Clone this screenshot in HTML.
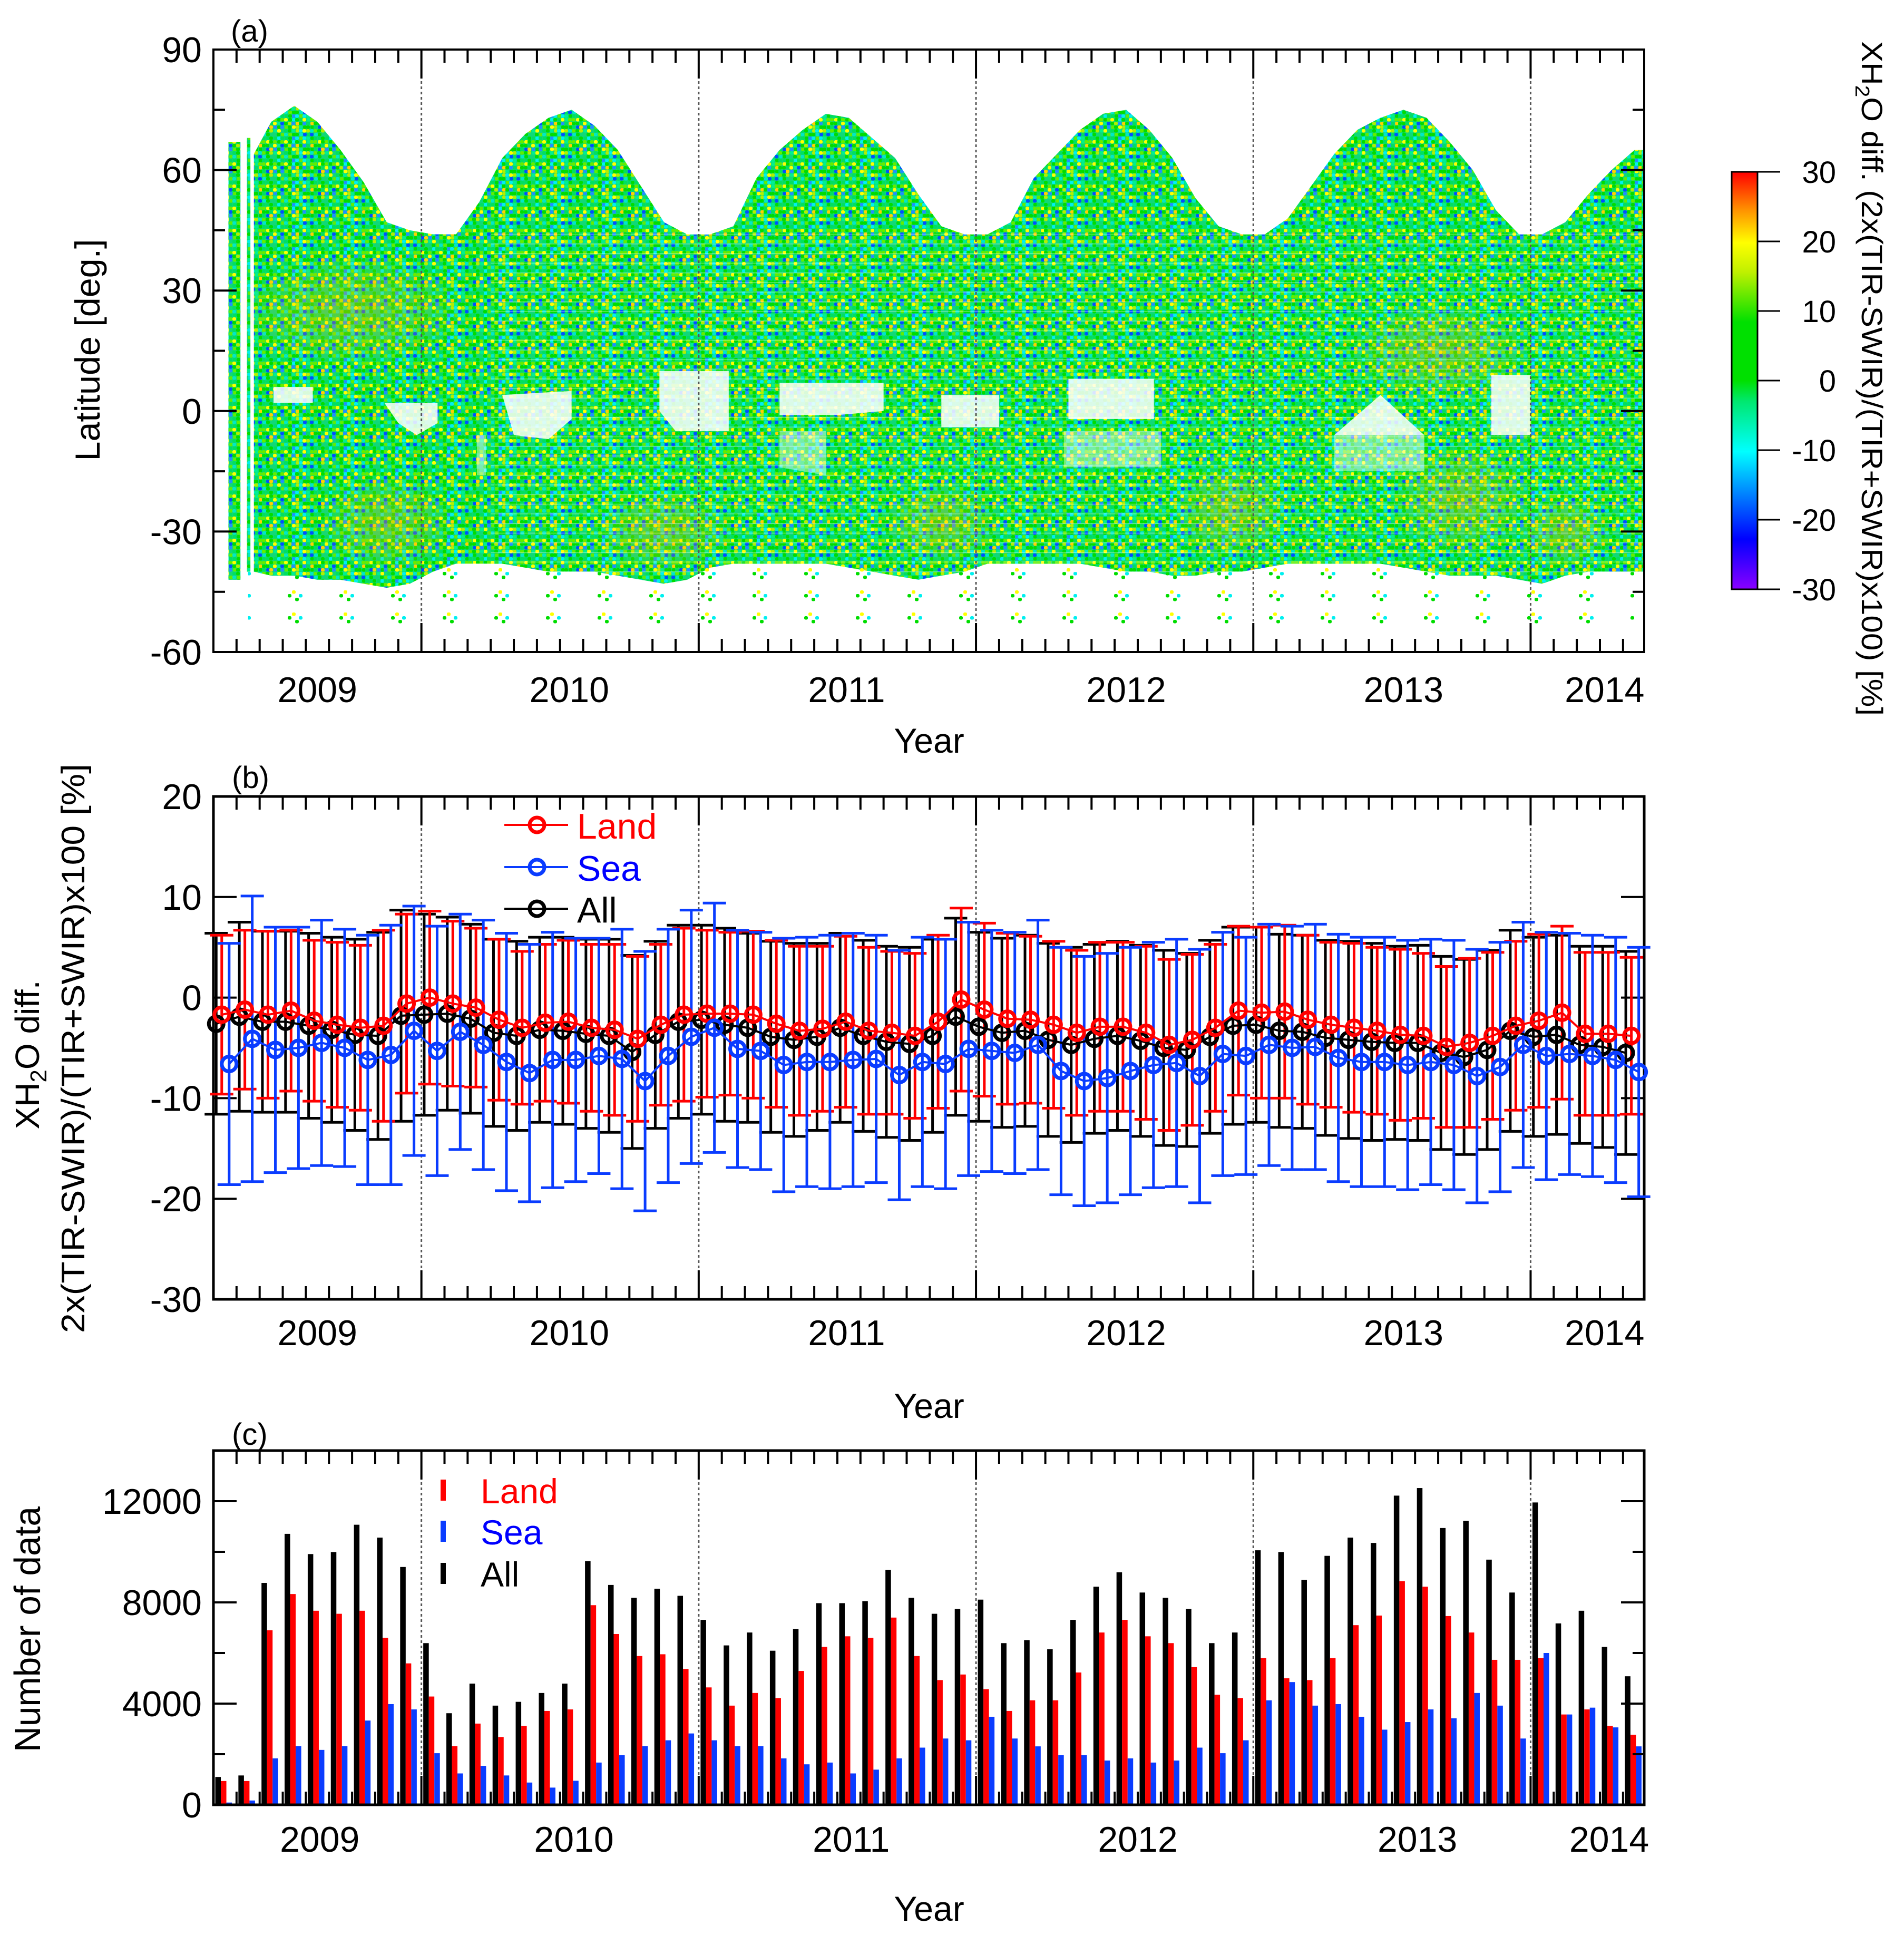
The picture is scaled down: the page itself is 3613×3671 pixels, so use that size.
<!DOCTYPE html>
<html><head><meta charset="utf-8"><title>XH2O diff</title>
<style>
html,body{margin:0;padding:0;background:#fff;}
svg{display:block;font-family:"Liberation Sans",Arial,sans-serif;}
</style></head>
<body>
<svg id="fig" width="3613" height="3671" viewBox="0 0 3613 3671" xmlns="http://www.w3.org/2000/svg">
<defs>
<linearGradient id="cbGrad" x1="0" y1="1" x2="0" y2="0">
<stop offset="0" stop-color="#8a00ff"/><stop offset="0.12" stop-color="#0000ff"/>
<stop offset="0.20" stop-color="#0060ff"/><stop offset="0.33" stop-color="#00ffff"/>
<stop offset="0.45" stop-color="#00e870"/><stop offset="0.50" stop-color="#00e000"/>
<stop offset="0.64" stop-color="#00e000"/><stop offset="0.76" stop-color="#c0f000"/>
<stop offset="0.83" stop-color="#ffff00"/><stop offset="0.91" stop-color="#ff9000"/>
<stop offset="1" stop-color="#ff0000"/>
</linearGradient>
<radialGradient id="warmGrad">
<stop offset="0" stop-color="#ffb000" stop-opacity="0.35"/>
<stop offset="0.6" stop-color="#ffc000" stop-opacity="0.18"/>
<stop offset="1" stop-color="#ffc000" stop-opacity="0"/>
</radialGradient>
<clipPath id="clipA"><rect x="405" y="94" width="2715" height="1143"/></clipPath>
</defs>
<g id="panelA"></g>
<g id="panelB"></g>
<g id="panelC"></g>
<g id="cbar"></g>
</svg>
<script>
// ---------- DATA ----------
const monthCount = 62;
const yearLabels = ["2009","2010","2011","2012","2013","2014"];
const yearLabelMonth = [4.5, 15.4, 27.4, 39.5, 51.5, 60.2];
const yearLabelMonthC = [4.6, 15.6, 27.6, 40.0, 52.1, 60.4];
const boundaryMonths = [9, 21, 33, 45, 57];

// panel (a) data-coverage envelope (latitude per month, centre i+0.5)
const northEdge = [62,64,72,76,72,65,57,47,45,44,44,52,63,69,73,75,71,65,56,47,44,44,46,58,65,70,74,73,68,63,54,46,44,44,47,58,64,70,74,75,70,63,53,46,44,44,48,56,64,70,73,75,73,67,60,50,44,44,47,54,60,65];
const southEdge = [-40,-40,-41,-41,-42,-42,-43,-44,-43,-40,-38,-38,-38,-39,-40,-40,-40,-41,-42,-43,-42,-39,-38,-38,-38,-38,-38,-39,-40,-41,-42,-41,-40,-38,-38,-38,-38,-38,-39,-40,-40,-41,-41,-40,-40,-39,-38,-38,-38,-38,-38,-39,-40,-41,-41,-41,-42,-43,-41,-40,-40,-40];
const stripMonths = [[0.65,1.17],[1.45,1.6]];
const stripLats = [[67,-42],[68,-40]];
const holes = [
 [[2.6,6],[4.3,6],[4.3,2],[2.6,2]],
 [[7.4,2],[9.7,2],[9.7,-3],[8.8,-6],[8.0,-3]],
 [[12.5,4],[15.5,5],[15.5,-2],[14.5,-7],[13,-6]],
 [[19.3,10],[22.3,10],[22.3,-5],[20,-5],[19.3,0]],
 [[24.5,7],[29,7],[29,0],[27,-1],[24.5,-1]],
 [[31.5,4],[34,4],[34,-4],[31.5,-4]],
 [[37,8],[40.7,8],[40.7,-2],[37,-2]],
 [[48.5,-6],[50.5,4],[52.4,-6]],
 [[55.3,9],[57,9],[57,-6],[55.3,-6]]
];
const softHoles = [
 [[24.5,-5],[26.5,-5],[26.5,-16],[24.5,-14]],
 [[36.8,-5],[41,-5],[41,-14],[36.8,-14]],
 [[48.5,-6],[52.4,-6],[52.4,-15],[48.5,-15]],
 [[11.4,-6],[11.8,-6],[11.8,-16],[11.4,-16]]
];
const warmPatches = [[6,25,5,14],[7.5,-28,3,12],[19.5,-30,3,10],[31.5,-28,2.5,10],[44,-25,2.5,12],[54,-22,3,14],[58.5,-30,2,9],[53,15,4,12]];

// panel (b)
const landMean = [-1.7,-1.2,-1.7,-1.3,-2.3,-2.7,-3.0,-2.8,-0.6,0,-0.6,-1.0,-2.2,-3.0,-2.5,-2.4,-3.0,-3.2,-4.1,-2.7,-1.7,-1.6,-1.6,-1.7,-2.6,-3.3,-3.1,-2.4,-3.3,-3.5,-3.8,-2.4,-0.2,-1.2,-2.1,-2.2,-2.7,-3.5,-2.9,-2.9,-3.5,-4.7,-4.2,-3.0,-1.3,-1.5,-1.4,-2.2,-2.7,-3.0,-3.3,-3.7,-3.8,-4.9,-4.5,-3.8,-2.8,-2.3,-1.5,-3.6,-3.6,-3.8];
const seaMean = [-6.6,-4.1,-5.2,-5.0,-4.5,-5.0,-6.2,-5.7,-3.3,-5.3,-3.4,-4.7,-6.4,-7.5,-6.2,-6.2,-5.8,-6.1,-8.3,-5.8,-3.9,-3.0,-5.1,-5.3,-6.7,-6.4,-6.4,-6.2,-6.1,-7.7,-6.4,-6.6,-5.1,-5.3,-5.5,-4.7,-7.3,-8.3,-8.0,-7.3,-6.7,-6.5,-7.8,-5.6,-5.8,-4.7,-5.0,-4.9,-6.0,-6.4,-6.4,-6.7,-6.4,-6.7,-7.8,-6.9,-4.7,-5.8,-5.6,-5.8,-6.2,-7.4];
const allMean = [-2.6,-1.9,-2.4,-2.4,-2.8,-3.2,-3.7,-3.8,-1.8,-1.7,-1.6,-2.1,-3.5,-3.8,-3.2,-3.3,-3.6,-3.8,-5.4,-3.7,-2.4,-2.2,-2.7,-3.0,-3.9,-4.2,-3.9,-3.0,-3.8,-4.4,-4.6,-3.8,-1.9,-2.9,-3.5,-3.3,-4.2,-4.7,-4.1,-3.8,-4.3,-5.0,-5.2,-3.9,-2.8,-2.7,-3.3,-3.4,-4.0,-4.2,-4.4,-4.5,-4.5,-5.5,-5.9,-5.2,-3.3,-3.9,-3.7,-4.7,-4.9,-5.5];
const landStd = [7.9,7.9,8.3,8.0,8.0,8.2,8.2,9.5,8.9,8.6,8.2,7.9,8.0,7.6,7.8,8.1,8.3,8.5,8.2,8.0,8.6,8.3,8.1,8.3,8.3,8.4,8.2,8.5,8.3,8.1,8.2,8.6,9.1,8.6,8.5,8.3,8.3,8.2,8.4,8.4,8.6,8.5,8.5,8.3,8.4,8.5,8.6,8.4,8.2,8.4,8.3,8.5,8.2,8.0,8.4,8.3,8.4,8.6,8.6,8.1,8.1,7.8];
const seaStd = [12.0,14.2,12.2,12.0,12.2,11.8,12.4,12.9,12.4,12.4,11.7,12.4,12.8,12.8,12.7,12.1,11.7,12.9,12.9,12.6,12.6,12.4,11.8,11.8,12.6,12.4,12.6,12.6,12.3,12.4,12.4,12.4,12.6,12.0,12.0,12.4,12.3,12.4,12.4,12.3,12.2,12.3,12.6,12.1,11.8,12.0,12.1,12.2,12.3,12.4,12.4,12.4,12.2,12.4,12.6,12.4,12.2,12.3,12.0,12.0,12.2,12.4];
const allStd = [9.0,9.4,9.0,9.0,9.2,9.2,9.5,10.3,10.5,10.0,9.6,9.4,9.3,9.4,9.2,9.3,9.4,9.6,9.6,9.3,9.6,9.4,9.6,9.4,9.5,9.6,9.3,9.4,9.5,9.5,9.6,9.6,9.8,9.4,9.4,9.5,9.6,9.7,9.4,9.4,9.5,9.7,9.6,9.6,9.8,9.7,9.6,9.6,9.7,9.8,9.8,9.6,9.7,9.6,9.7,9.9,10.0,9.9,9.9,9.8,10.0,10.1];
const bTicks = [20,10,0,-10,-20,-30];

// panel (c)
const allCount = [1100,1160,8770,10710,9910,9990,11070,10560,9400,6390,3620,4790,3920,4070,4420,4790,9630,8690,8180,8540,8260,7310,6300,6810,6090,6950,7970,7970,8050,9280,8180,7550,7740,8110,6390,6510,6150,7310,8620,9190,8390,8180,7740,6390,6810,10060,9990,8890,9840,10560,10350,12220,12520,10940,11220,9690,8390,11950,7170,7670,6240,5080];
const landCount = [940,940,6900,8330,7670,7550,7670,6600,5590,4280,2320,3210,2680,3120,3710,3770,7890,6750,5880,5950,5370,4640,3920,4420,4220,5290,6240,6660,6600,7400,5880,4930,5150,4570,3710,4130,4130,5230,6810,7310,6660,6390,5440,4350,4220,5800,5000,4930,5800,7100,7480,8840,8620,7460,6810,5730,5730,5800,3570,3770,3120,2770];
const seaCount = [90,170,1835,2320,2170,2320,3330,3980,3770,2040,1240,1540,1160,880,680,950,1670,1960,2320,2550,2820,2550,2320,2320,1835,1600,1670,1240,1390,1835,2260,2620,2550,3480,2620,2310,1960,1960,1750,1835,1670,1750,2260,2040,2550,4130,4850,3920,3980,3480,2970,3270,3770,3420,4420,3920,2620,6000,3570,3840,3060,2310];
const cTicks = [0,4000,8000,12000];
const cbTicks = [30,20,10,0,-10,-20,-30];
const aTicks = [90,60,30,0,-30,-60];

// ---------- SCALES ----------
const X0 = 405, X1 = 3120, MW = 43.85;
const xM = m => X0 + m * MW;
const yA = lat => 94 + (90 - lat) * (1143 / 150);
const yB = v => 1511 + (20 - v) * (954 / 50);
const yC = v => 3424 - v * (672 / 14000);
const NS = "http://www.w3.org/2000/svg";
function mk(tag, attrs, parent) {
  const e = document.createElementNS(NS, tag);
  for (const k in attrs) e.setAttribute(k, attrs[k]);
  parent.appendChild(e);
  return e;
}
function txt(str, attrs, parent) { const t = mk("text", attrs, parent); t.textContent = str; return t; }
function hash(n) { n = Math.imul(n ^ 0x9e3779b9, 2654435761) >>> 0; n ^= n >>> 15; n = Math.imul(n, 2246822519) >>> 0; n ^= n >>> 13; return (n >>> 0) / 4294967296; }

const svg = document.getElementById("fig");
const defs = svg.querySelector("defs");

// speckle patterns (texture only)
function makePattern(id, density, bg) {
  const pat = mk("pattern", {id: id, x: 0, y: 0, width: 98, height: 42, patternUnits: "userSpaceOnUse"}, defs);
  if (bg) mk("rect", {x: 0, y: 0, width: 98, height: 42, fill: bg}, pat);
  const cols = ["#00dd00","#00dd00","#00dd00","#00e060","#00f090","#00e8c8","#00f0f0","#60ee00","#b0f000","#ffff00","#ffd000","#0050ff","#2090ff","#ff8000","#ff2000","#7000ff"];
  const w = [20,8,7,10,9,9,8,6,5,6,3,4,3,3,1.5,0.5];
  const tot = w.reduce((a,b)=>a+b,0);
  let k = 0;
  for (let r = 0; r < 6; r++) for (let c = 0; c < 14; c++) {
    k++;
    if (hash(k * 7 + 3) > density) continue;
    let u = hash(k * 13 + 11) * tot, ci = 0;
    while (u > w[ci]) { u -= w[ci]; ci++; }
    mk("rect", {x: c * 7 + (hash(k) * 2 | 0), y: r * 7, width: 7, height: 6.5, rx: 2.5, fill: cols[ci]}, pat);
  }
}
makePattern("speckle", 0.97, "#10d878");
makePattern("sparse", 0.06, null);

// ---------- PANEL A ----------
const gA = document.getElementById("panelA");
const gAd = mk("g", {"clip-path": "url(#clipA)"}, gA);


{
  let pts = [];
  for (let i = 1; i < monthCount; i++) pts.push(xM(i + 0.5) + "," + yA(southEdge[i] + 1));
  for (let i = monthCount - 1; i >= 1; i--) pts.push(xM(i + 0.5) + "," + yA(-55));
  const p = mk("polygon", {points: pts.join(" "), fill: "url(#sparse)"}, gAd);
  
  
}
{
  let pts = [xM(1.75) + "," + yA(northEdge[1])];
  for (let i = 2; i < monthCount; i++) pts.push(xM(i + 0.5) + "," + yA(northEdge[i]));
  pts.push(xM(61.95) + "," + yA(northEdge[61]));
  pts.push(xM(61.95) + "," + yA(southEdge[61]));
  for (let i = monthCount - 1; i >= 2; i--) pts.push(xM(i + 0.5) + "," + yA(southEdge[i]));
  pts.push(xM(1.75) + "," + yA(southEdge[1]));
  const p = mk("polygon", {points: pts.join(" "), fill: "url(#speckle)"}, gAd);
  
  
}
stripMonths.forEach((sm, j) => {
  const r = mk("rect", {x: xM(sm[0]), y: yA(stripLats[j][0]), width: xM(sm[1]) - xM(sm[0]), height: yA(stripLats[j][1]) - yA(stripLats[j][0]), fill: "url(#speckle)"}, gAd);
  
  
});
warmPatches.forEach(wp => {
  const e = mk("ellipse", {cx: xM(wp[0]), cy: yA(wp[1]), rx: wp[2] * MW, ry: wp[3] * 1143 / 150, fill: "url(#warmGrad)"}, gAd);
  
  
});
for (let lat = 44; lat > -40; lat -= 2.4) {
  mk("line", {x1: xM(12), x2: X1, y1: yA(lat), y2: yA(lat), stroke: "#fff", "stroke-width": 2, opacity: 0.3}, gAd);
}
holes.forEach(h => {
  const p = mk("polygon", {points: h.map(q => xM(q[0]) + "," + yA(q[1])).join(" "), fill: "#fff", opacity: 0.85}, gAd);
  
  
});
softHoles.forEach(h => {
  const p = mk("polygon", {points: h.map(q => xM(q[0]) + "," + yA(q[1])).join(" "), fill: "#fff", opacity: 0.45}, gAd);
  
  
});

// ---------- generic axes ----------
function frame(g, top, bot, name, sw) {
  boundaryMonths.forEach(m => {
    const l = mk("line", {x1: xM(m), x2: xM(m), y1: top + 50, y2: bot - 50, stroke: "#555", "stroke-width": 3, "stroke-dasharray": "5 5"}, g);
    
    
  });
  for (let m = 1; m < 62; m++) {
    const major = boundaryMonths.includes(m);
    const L = major ? 55 : 25;
    mk("line", {x1: xM(m), x2: xM(m), y1: top, y2: top + L, stroke: "#000", "stroke-width": 4}, g);
    mk("line", {x1: xM(m), x2: xM(m), y1: bot, y2: bot - L, stroke: "#000", "stroke-width": 4}, g);
  }
  const r = mk("rect", {x: X0, y: top, width: X1 - X0, height: bot - top, fill: "none", stroke: "#000", "stroke-width": sw}, g);
  
  
}
function yTick(g, y, label, major) {
  const L = major ? 44 : 22;
  mk("line", {x1: X0, x2: X0 + L, y1: y, y2: y, stroke: "#000", "stroke-width": 4}, g);
  mk("line", {x1: X1, x2: X1 - L, y1: y, y2: y, stroke: "#000", "stroke-width": 4}, g);
  if (label !== null) {
    const t = txt(label, {x: 383, y: y + 24, "text-anchor": "end", "font-size": 68}, g);
    
    
  }
}
function xLabels(g, months, base) {
  yearLabels.forEach((s, i) => {
    const t = txt(s, {x: xM(months[i]), y: base, "text-anchor": "middle", "font-size": 68}, g);
    
    
  });
}

frame(gA, 94, 1237, "panel-a-frame", 4);
aTicks.forEach(v => yTick(gA, yA(v), String(v), true));
[75,45,15,-15,-45].forEach(v => yTick(gA, yA(v), null, false));
xLabels(gA, yearLabelMonth, 1332);
{
  let t = txt("Year", {x: 1763, y: 1428, "text-anchor": "middle", "font-size": 66}, gA);
   
  t = txt("Latitude [deg.]", {x: 0, y: 0, "text-anchor": "middle", "font-size": 66, textLength: 421, lengthAdjust: "spacingAndGlyphs", transform: "translate(189,664) rotate(-90)"}, gA);
   
  t = txt("(a)", {x: 438, y: 79, "font-size": 58}, gA);
   
}

// ---------- COLORBAR ----------
const gCb = document.getElementById("cbar");
{
  const cbTop = 326, cbBot = 1118;
  const r = mk("rect", {x: 3286, y: cbTop, width: 49, height: cbBot - cbTop, fill: "url(#cbGrad)", stroke: "#000", "stroke-width": 3}, gCb);
   
  cbTicks.forEach(v => {
    const y = cbTop + (30 - v) / 60 * (cbBot - cbTop);
    mk("line", {x1: 3335, x2: 3378, y1: y, y2: y, stroke: "#000", "stroke-width": 3}, gCb);
    const t = txt(String(v), {x: 3484, y: y + 21, "text-anchor": "end", "font-size": 58}, gCb);
     
  });
  const t = mk("text", {x: 0, y: 0, "text-anchor": "middle", "font-size": 56, textLength: 1280, lengthAdjust: "spacingAndGlyphs", transform: "translate(3533,718) rotate(90)"}, gCb);
  t.innerHTML = 'XH<tspan font-size="38" dy="12">2</tspan><tspan dy="-12">O diff. (2x(TIR-SWIR)/(TIR+SWIR)x100) [%]</tspan>';
   
}

// ---------- PANEL B ----------
const gB = document.getElementById("panelB");
frame(gB, 1511, 2465, "panel-b-frame", 5);
bTicks.forEach(v => yTick(gB, yB(v), String(v), true));
xLabels(gB, yearLabelMonth, 2552);
const series = [
  {name: "all", mean: allMean, std: allStd, color: "#000000", off: 0.12},
  {name: "land", mean: landMean, std: landStd, color: "#ff0000", off: 0.36},
  {name: "sea", mean: seaMean, std: seaStd, color: "#0a3cff", off: 0.68}
];
series.forEach(s => {
  const g = mk("g", {}, gB);
  
  
  for (let i = 0; i < monthCount; i++) {
    const x = xM(i + s.off), hi = yB(s.mean[i] + s.std[i]), lo = yB(s.mean[i] - s.std[i]);
    const eb = mk("path", {d: `M${x},${hi}V${lo}M${x - 22},${hi}H${x + 22}M${x - 22},${lo}H${x + 22}`, stroke: s.color, "stroke-width": 5, fill: "none"}, g);
    
    
  }
});
series.forEach(s => {
  const g = mk("g", {}, gB);
  const pts = s.mean.map((v, i) => xM(i + s.off) + "," + yB(v)).join(" ");
  const pl = mk("polyline", {points: pts, fill: "none", stroke: s.color, "stroke-width": 4}, g);
  
  
  s.mean.forEach((v, i) => {
    const c = mk("circle", {cx: xM(i + s.off), cy: yB(v), r: 14, fill: "none", stroke: s.color, "stroke-width": 7}, g);
    
    
  });
});
{
  const lg = mk("g", {}, gB);
   
  [["Land", "#ff0000", "#ff0000", 1565], ["Sea", "#0a3cff", "#0000ff", 1645], ["All", "#000", "#000", 1724]].forEach(e => {
    mk("line", {x1: 957, x2: 1078, y1: e[3], y2: e[3], stroke: e[1], "stroke-width": 4}, lg);
    mk("circle", {cx: 1019, cy: e[3], r: 14, fill: "none", stroke: e[1], "stroke-width": 7}, lg);
    const t = txt(e[0], {x: 1095, y: e[3] + 26, "font-size": 68, fill: e[2]}, lg);
    
    
  });
}
{
  let t = txt("Year", {x: 1763, y: 2690, "text-anchor": "middle", "font-size": 66}, gB);
   
  t = mk("text", {x: 0, y: 0, "text-anchor": "middle", "font-size": 64, transform: "translate(74,2001) rotate(-90)"}, gB);
  t.innerHTML = 'XH<tspan font-size="44" dy="14">2</tspan><tspan dy="-14">O diff.</tspan>';
   
  t = txt("2x(TIR-SWIR)/(TIR+SWIR)x100 [%]", {x: 0, y: 0, "text-anchor": "middle", "font-size": 62, textLength: 1080, lengthAdjust: "spacingAndGlyphs", transform: "translate(160,1989) rotate(-90)"}, gB);
   
  t = txt("(b)", {x: 440, y: 1495, "font-size": 58}, gB);
   
}

// ---------- PANEL C ----------
const gC = document.getElementById("panelC");
const barDefs = [[allCount, "#000000", 0.08, "all"], [landCount, "#ff0000", 0.32, "land"], [seaCount, "#0a3cff", 0.56, "sea"]];
barDefs.forEach(b => {
  const g = mk("g", {}, gC);
  
  
  b[0].forEach((v, i) => {
    const r = mk("rect", {x: xM(i + b[2]), y: yC(v), width: 0.24 * MW, height: yC(0) - yC(v), fill: b[1]}, g);
    
    
  });
});
frame(gC, 2752, 3424, "panel-c-frame", 5);
cTicks.forEach(v => yTick(gC, yC(v), String(v), true));
[2000, 6000, 10000].forEach(v => yTick(gC, yC(v), null, false));
xLabels(gC, yearLabelMonthC, 3513);
{
  const lg = mk("g", {}, gC);
   
  [["Land", "#ff0000", 2807], ["Sea", "#0a3cff", 2885], ["All", "#000", 2965]].forEach(e => {
    mk("rect", {x: 836, y: e[2], width: 10, height: 40, fill: e[1]}, lg);
    const t = txt(e[0], {x: 912, y: e[2] + 45, "font-size": 66, fill: e[0] === "Sea" ? "#0000ff" : e[1]}, lg);
    
    
  });
  let t = txt("Year", {x: 1763, y: 3644, "text-anchor": "middle", "font-size": 66}, gC);
   
  t = txt("Number of data", {x: 0, y: 0, "text-anchor": "middle", "font-size": 70, textLength: 466, lengthAdjust: "spacingAndGlyphs", transform: "translate(76,3091) rotate(-90)"}, gC);
   
  t = txt("(c)", {x: 440, y: 2741, "font-size": 58}, gC);
   
}
</script>
</body></html>
